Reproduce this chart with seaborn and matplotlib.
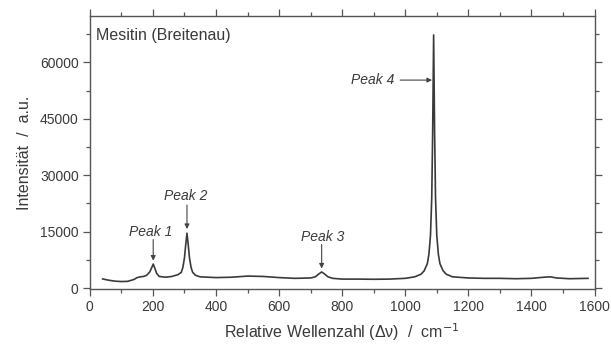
import matplotlib
matplotlib.use("Agg")
import matplotlib.pyplot as plt
import seaborn as sns
import pandas as pd
from matplotlib.ticker import MultipleLocator

# Raman spectrum
wavenumber = [40, 60, 80, 100, 120, 140, 150, 160, 170, 180, 190, 196, 201, 206, 212, 220,
              240, 260, 280, 290, 295, 300, 304, 308, 312, 316, 321, 326, 335, 350, 400, 450,
              500, 550, 600, 650, 700, 715, 725, 735, 745, 755, 770, 800, 850, 900, 950,
              1000, 1030, 1050, 1060, 1070, 1075, 1080, 1084, 1087, 1090, 1093, 1096, 1100,
              1105, 1110, 1120, 1130, 1150, 1200, 1250, 1300, 1350, 1400, 1440, 1460, 1480,
              1520, 1580]
intensity = [2450, 2100, 1850, 1750, 1800, 2300, 2800, 3000, 3100, 3400, 4300, 5400, 6400, 5300, 3900, 3100,
             2900, 3100, 3600, 4200, 5500, 8000, 11500, 14600, 11500, 8000, 5500, 4200, 3400, 3000, 2800, 2900,
             3200, 3100, 2800, 2600, 2700, 3000, 3700, 4300, 3700, 3000, 2600, 2400, 2400, 2350, 2400,
             2600, 3000, 3700, 4600, 6500, 9000, 14000, 24000, 42000, 67300, 42000, 24000, 14000,
             9000, 6500, 4600, 3700, 3000, 2700, 2600, 2600, 2500, 2600, 2900, 3000, 2700,
             2500, 2600]

title_text = "Mesitin (Breitenau)"
peak_labels = ["Peak 1", "Peak 2", "Peak 3", "Peak 4"]
x_ticks = [0, 200, 400, 600, 800, 1000, 1200, 1400, 1600]
y_ticks = [0, 15000, 30000, 45000, 60000]

df = pd.DataFrame({"x": wavenumber, "y": intensity})

sns.set_style("ticks")
plt.rcParams["font.family"] = ["Liberation Sans", "DejaVu Sans"]

fig = plt.figure(figsize=(6.11, 3.51), dpi=100)
ax = fig.add_axes([0.147, 0.177, 0.826, 0.777])

line_col = "#3a3a3a"
sns.lineplot(data=df, x="x", y="y", ax=ax, color=line_col, linewidth=1.2)

ax.set_xlim(0, 1600)
ax.set_ylim(-200, 72300)
ax.set_xticks(x_ticks)
ax.set_yticks(y_ticks)
ax.xaxis.set_minor_locator(MultipleLocator(100))
ax.yaxis.set_minor_locator(MultipleLocator(7500))

for s in ax.spines.values():
    s.set_visible(True)
    s.set_color("#555555")
    s.set_linewidth(1.0)

ax.tick_params(which="both", direction="out", top=True, right=True,
               labeltop=False, labelright=False, color="#555555", width=0.9)
ax.tick_params(which="major", length=5, labelsize=10, labelcolor="#3a3a3a", pad=3)
ax.tick_params(which="minor", length=3)

ax.set_xlabel("Relative Wellenzahl (\u0394\u03bd)  /  cm$^{-1}$", fontsize=11.5,
              color="#3a3a3a", labelpad=5)
ax.set_ylabel("Intensit\u00e4t  /  a.u.", fontsize=11.5, color="#3a3a3a", labelpad=6)

ax.text(0.012, 0.955, title_text, transform=ax.transAxes, fontsize=11.5,
        color="#3a3a3a", ha="left", va="top")

arrow_kw = dict(arrowstyle="-|>", color="#444444", lw=0.8, mutation_scale=7,
                shrinkA=0, shrinkB=0)
txt_kw = dict(fontsize=10, style="italic", color="#3a3a3a")

ax.annotate("", xy=(201, 7300), xytext=(201, 12900), arrowprops=arrow_kw)
ax.text(192, 15000, peak_labels[0], ha="center", va="center", **txt_kw)

ax.annotate("", xy=(308, 15700), xytext=(308, 22100), arrowprops=arrow_kw)
ax.text(303, 24500, peak_labels[1], ha="center", va="center", **txt_kw)

ax.annotate("", xy=(735, 5200), xytext=(735, 11600), arrowprops=arrow_kw)
ax.text(737, 13700, peak_labels[2], ha="center", va="center", **txt_kw)

ax.annotate("", xy=(1085, 55300), xytext=(984, 55300), arrowprops=arrow_kw)
ax.text(966, 55300, peak_labels[3], ha="right", va="center", **txt_kw)

fig.savefig("out.png", dpi=100, facecolor="white")
